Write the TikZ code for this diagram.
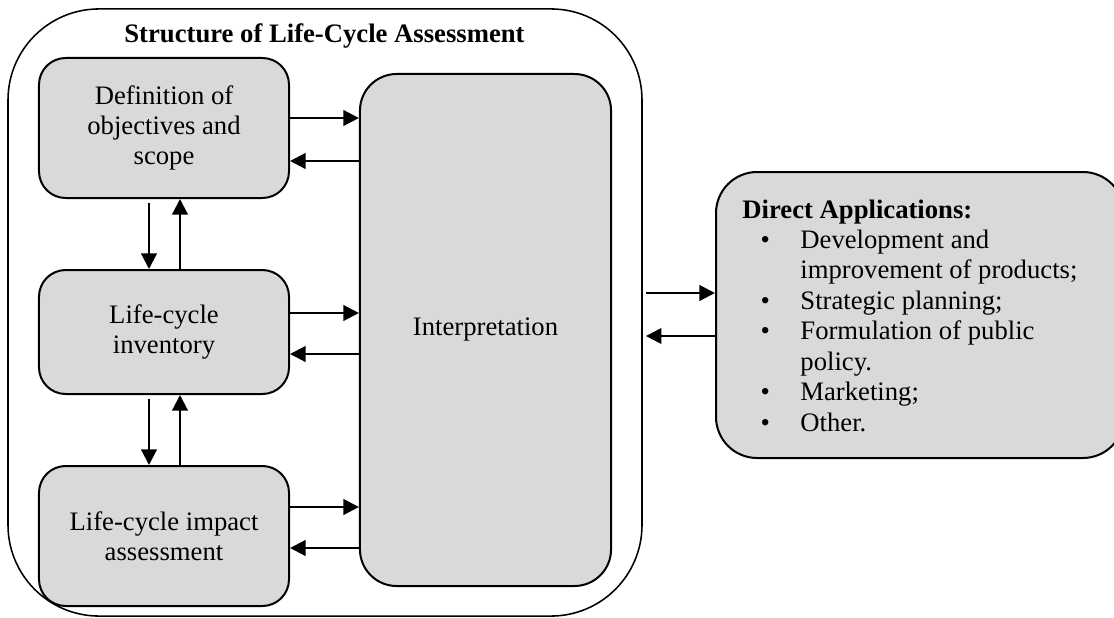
\documentclass[tikz,border=0pt]{standalone}
\usepackage{fontspec}
\setmainfont{Liberation Serif}
\usepackage{tikz}
\usetikzlibrary{arrows.meta}
\usetikzlibrary{positioning}

\definecolor{boxgray}{HTML}{D9D9D9}

\begin{document}
\begin{tikzpicture}[
		x=0.45pt, y=-0.45pt,
		every node/.style={font=\fontsize{12}{13.7}\selectfont},
		stage/.style={draw, line width=0.9pt, fill=boxgray, rounded corners=12pt, align=center,
				minimum width=112.5pt, minimum height=63pt, inner sep=2pt},
		arr/.style={line width=1pt, -{Triangle[length=7pt, width=7pt]}},
		node distance=31.5pt
	]
	\path[use as bounding box] (0,0) rectangle (1114,617);
	\clip (0,0) rectangle (1114,617);

	% outer frame and title
	\node[draw, line width=0.7pt, rounded corners=41pt, minimum width=285.3pt, minimum height=273.2pt] (lca) at (325,312.5) {};
	\node[anchor=base] (title) at (324.5,43) {\textbf{Structure of Life-Cycle Assessment}};

	% the three stages
	\node[stage] (def) at (164,128) {Definition of\\objectives and\\scope};
	\node[stage, minimum height=55.8pt, below=of def] (inv) {Life-cycle\\inventory};
	\node[stage, below=of inv] (imp) {Life-cycle impact\\assessment};

	\node[stage, rounded corners=16.5pt, minimum width=113pt, minimum height=230.4pt] (interp) at (485.5,330) {Interpretation};

	% applications
	\node[stage, rounded corners=18.5pt, minimum width=183.6pt, minimum height=128.7pt] (direct) at (920,315) {};
	\node[anchor=base west, inner sep=0] (applist) at (742,218) {%
		\begin{tabular}[t]{@{}l@{}l@{}}
			\multicolumn{2}{@{}l@{}}{\textbf{Direct Applications:}}\\
			\makebox[26.1pt][l]{\hspace*{8.2pt}\textbullet} & Development and\\
			& improvement of products;\\
			\makebox[26.1pt][l]{\hspace*{8.2pt}\textbullet} & Strategic planning;\\
			\makebox[26.1pt][l]{\hspace*{8.2pt}\textbullet} & Formulation of public\\
			& policy.\\
			\makebox[26.1pt][l]{\hspace*{8.2pt}\textbullet} & Marketing;\\
			\makebox[26.1pt][l]{\hspace*{8.2pt}\textbullet} & Other.
		\end{tabular}};

	% stages <-> interpretation
	\foreach \s/\yr/\yl in {def/118/161, inv/313/354, imp/507/548} {
		\draw[arr] (\s.east |- 0,\yr) -- (interp.west |- 0,\yr);
		\draw[arr] (interp.west |- 0,\yl) -- (\s.east |- 0,\yl);
	}

	% between stages
	\foreach \a/\b in {def/inv, inv/imp} {
		\draw[arr, shorten <=1.8pt] (\a.south -| 149,0) -- (\b.north -| 149,0);
		\draw[arr] (\b.north -| 180,0) -- (\a.south -| 180,0);
	}

	% frame <-> applications
	\draw[arr, shorten <=1.4pt] (lca.east |- 0,293) -- (direct.west |- 0,293);
	\draw[arr, shorten >=1.4pt] (direct.west |- 0,336) -- (lca.east |- 0,336);
\end{tikzpicture}
\end{document}
